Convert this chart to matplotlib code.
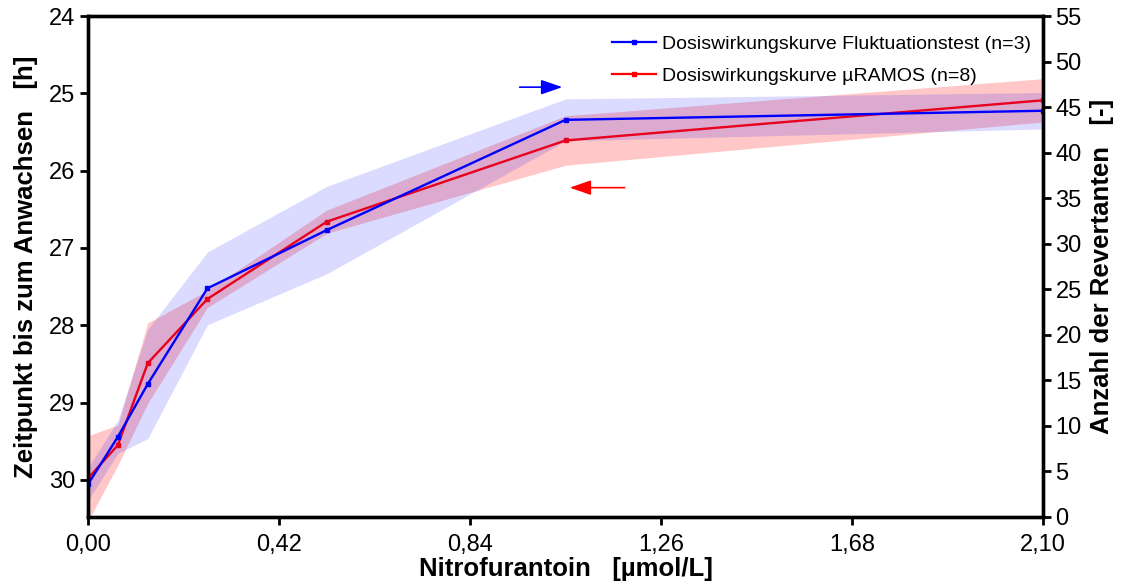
import matplotlib
matplotlib.use("Agg")
import matplotlib.pyplot as plt
from matplotlib.lines import Line2D

plt.rcParams["font.family"] = ["Liberation Sans", "DejaVu Sans"]

# Nitrofurantoin concentrations [umol/L]
conc = [0.0, 0.0656, 0.1313, 0.2625, 0.525, 1.05, 2.1]

# muRAMOS: time until growth [h] (left axis), mean and std
ramos_mean = [29.98, 29.55, 28.49, 27.66, 26.66, 25.61, 25.09]
ramos_sd = [0.55, 0.26, 0.52, 0.11, 0.15, 0.32, 0.28]

# fluctuation test: number of revertants [-] (right axis), mean and std
fluct_mean = [3.6, 8.8, 14.6, 25.1, 31.5, 43.6, 44.6]
fluct_sd = [1.8, 1.8, 6.0, 4.0, 4.8, 2.3, 2.0]

xticks = [0.0, 0.42, 0.84, 1.26, 1.68, 2.10]
xticklabels = ["0,00", "0,42", "0,84", "1,26", "1,68", "2,10"]
left_ticks = [24, 25, 26, 27, 28, 29, 30]
right_ticks = list(range(0, 56, 5))

BLUE = "#0000ff"
RED = "#e8001f"

fig = plt.figure(figsize=(11.23, 5.87), dpi=100)
ax = fig.add_axes([0.0784, 0.1193, 0.8504, 0.8534])
ax2 = ax.twinx()

# bands
ax.fill_between(conc, [m - s for m, s in zip(ramos_mean, ramos_sd)],
                [m + s for m, s in zip(ramos_mean, ramos_sd)],
                color="#ff0000", alpha=0.22, linewidth=0)
ax2.fill_between(conc, [m - s for m, s in zip(fluct_mean, fluct_sd)],
                 [m + s for m, s in zip(fluct_mean, fluct_sd)],
                 color=BLUE, alpha=0.14, linewidth=0)

# both lines on top of both bands; red uses the left axis scale
ax2.plot(conc, ramos_mean, color=RED, lw=1.7, marker="s", ms=3.5,
         transform=ax.transData, clip_on=True)
ax2.plot(conc, fluct_mean, color=BLUE, lw=1.7, marker="s", ms=3.5)

ax.set_xlim(0, 2.1)
ax.set_ylim(30.48, 24)
ax2.set_ylim(0, 55)

ax.set_xticks(xticks)
ax.set_xticklabels(xticklabels)
ax.set_yticks(left_ticks)
ax2.set_yticks(right_ticks)

for a in (ax, ax2):
    a.tick_params(axis="both", direction="out", length=6, width=2,
                  labelsize=17, pad=3)
    for sp in a.spines.values():
        sp.set_linewidth(2.4)
ax.tick_params(axis="x", pad=6)

ax.set_xlabel("Nitrofurantoin   [\u00b5mol/L]", fontsize=18.5,
              fontweight="bold", labelpad=1)
ax.set_ylabel("Zeitpunkt bis zum Anwachsen   [h]", fontsize=18.5,
              fontweight="bold", labelpad=8)
ax2.set_ylabel("Anzahl der Revertanten   [-]", fontsize=18.5,
               fontweight="bold", labelpad=6)

# arrows pointing to the matching axis
ax.annotate("", xy=(1.049, 24.92), xytext=(0.943, 24.92),
            arrowprops=dict(arrowstyle="-|>,head_length=1.3,head_width=0.45",
                            color=BLUE, lw=1.2))
ax.annotate("", xy=(1.053, 26.22), xytext=(1.186, 26.22),
            arrowprops=dict(arrowstyle="-|>,head_length=1.3,head_width=0.45",
                            color="#ff0000", lw=1.2))

handles = [
    Line2D([], [], color=BLUE, lw=1.6, marker="s", ms=3),
    Line2D([], [], color="#ff0000", lw=1.6, marker="s", ms=3),
]
labels = ["Dosiswirkungskurve Fluktuationstest (n=3)",
          "Dosiswirkungskurve \u00b5RAMOS (n=8)"]
ax2.legend(handles, labels, loc="upper right", bbox_to_anchor=(1.008, 1.0),
           frameon=False, fontsize=14, handlelength=2.3, handletextpad=0.3,
           labelspacing=0.75, borderaxespad=0.6, alignment="left")

fig.savefig("out.png", dpi=100)
